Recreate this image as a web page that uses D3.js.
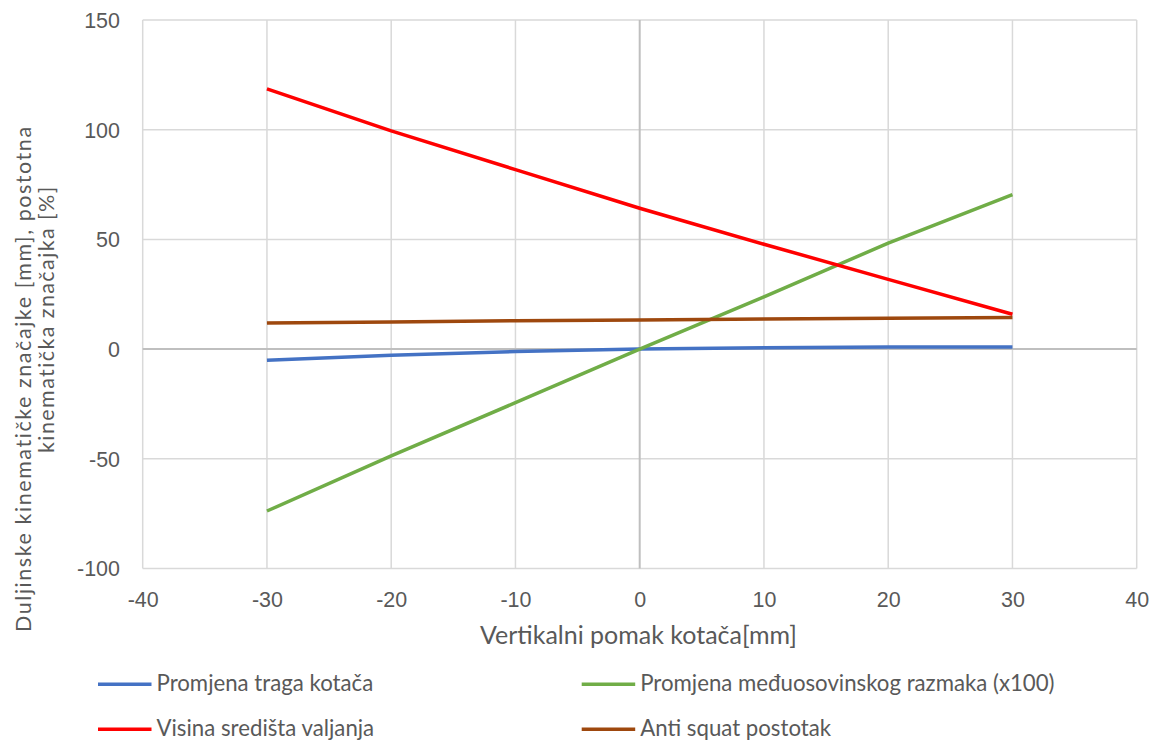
<!DOCTYPE html>
<html>
<head>
<meta charset="utf-8">
<script src="https://cdn.jsdelivr.net/npm/d3@7"></script>
<style>
  html, body { margin: 0; padding: 0; background: #fff; }
  svg { display: block; font-family: Lato, "Open Sans", sans-serif; }
</style>
</head>
<body>
<svg id="chart" width="1154" height="743"></svg>
<script>
const xValues = [-30, -20, -10, 0, 10, 20, 30];
const tragKotaca = [-5.1, -2.8, -1.1, 0, 0.6, 1.0, 1.0];
const meduosovinski = [-73.8, -48.7, -24.4, 0, 23.8, 48.3, 70.4];
const visinaSredista = [118.6, 99.5, 81.8, 64.2, 47.8, 31.8, 15.9];
const antiSquat = [11.9, 12.4, 12.9, 13.3, 13.7, 14.1, 14.4];
const xTicks = [-40, -30, -20, -10, 0, 10, 20, 30, 40];
const yTicks = [-100, -50, 0, 50, 100, 150];

const series = [
  { name: "Promjena traga kotača", values: tragKotaca, color: "#4472C4" },
  { name: "Promjena međuosovinskog razmaka (x100)", values: meduosovinski, color: "#70AD47" },
  { name: "Visina središta valjanja", values: visinaSredista, color: "#FF0000" },
  { name: "Anti squat postotak", values: antiSquat, color: "#9E480E" }
];

const svg = d3.select("#chart");
const pLeft = 142.7, pRight = 1136.7, pTop = 20, pBottom = 568.5;
const x = d3.scaleLinear().domain([-40, 40]).range([pLeft, pRight]);
const y = d3.scaleLinear().domain([-100, 150]).range([pBottom, pTop]);
const textColor = "#595959";
const fmt = d => (d < 0 ? "-" + Math.abs(d) : String(d));

function fit(sel, target) {
  sel.each(function () {
    const w = this.getComputedTextLength();
    const fs = parseFloat(this.style.fontSize);
    if (w > 0) this.style.fontSize = (fs * target / w).toFixed(2) + "px";
  });
}
function spread(sel, target) {
  sel.each(function () {
    const w = this.getComputedTextLength();
    const n = this.textContent.length;
    if (w > 0) this.style.letterSpacing = ((target - w) / n).toFixed(3) + "px";
  });
}

// grid
svg.append("g").selectAll("line").data(yTicks).join("line")
  .attr("x1", pLeft).attr("x2", pRight)
  .attr("y1", d => y(d)).attr("y2", d => y(d))
  .attr("stroke", "#d9d9d9").attr("stroke-width", 1.5);
svg.append("g").selectAll("line").data(xTicks).join("line")
  .attr("y1", pTop).attr("y2", pBottom)
  .attr("x1", d => x(d)).attr("x2", d => x(d))
  .attr("stroke", d => d === 0 ? "#bfbfbf" : "#d9d9d9").attr("stroke-width", d => d === 0 ? 2 : 1.5);
svg.append("line").attr("x1", pLeft).attr("x2", pRight).attr("y1", y(0)).attr("y2", y(0))
  .attr("stroke", "#bfbfbf").attr("stroke-width", 2);

const yAxis = svg.append("g").attr("transform", `translate(${pLeft},0)`)
  .call(d3.axisLeft(y).tickValues(yTicks).tickFormat(fmt).tickSize(0).tickPadding(22.7));
yAxis.select(".domain").remove();
yAxis.selectAll("text").attr("fill", textColor).style("font-size", "21px").attr("dy", 7.3);
fit(yAxis.selectAll("text").filter(d => d === -100), 43);
const yfs = yAxis.selectAll("text").filter(d => d === -100).style("font-size");
yAxis.selectAll("text").style("font-size", yfs);

const xAxis = svg.append("g").attr("transform", `translate(0,${pBottom})`)
  .call(d3.axisBottom(x).tickValues(xTicks).tickFormat(fmt).tickSize(0).tickPadding(0));
xAxis.select(".domain").remove();
xAxis.selectAll("text").attr("fill", textColor).style("font-size", yfs).attr("y", 38).attr("dy", 0);

const line = d3.line().x((d, i) => x(xValues[i])).y(d => y(d));
svg.append("g").selectAll("path").data(series).join("path")
  .attr("d", d => line(d.values))
  .attr("fill", "none").attr("stroke", d => d.color).attr("stroke-width", 3.5)
  .attr("stroke-linejoin", "round");

const xt = svg.append("text").attr("x", 638.5).attr("y", 644)
  .attr("text-anchor", "middle").attr("fill", textColor).style("font-size", "22px")
  .text("Vertikalni pomak kotača[mm]");
fit(xt, 317);

const yt1 = svg.append("text").attr("transform", "translate(31,632) rotate(-90)")
  .attr("text-anchor", "start").attr("fill", textColor).style("font-size", "21.5px")
  .text("Duljinske kinematičke značajke [mm], postotna");
spread(yt1, 507);
const yt2 = svg.append("text").attr("transform", "translate(53.5,453) rotate(-90)")
  .attr("text-anchor", "start").attr("fill", textColor).style("font-size", "21.5px")
  .text("kinematička značajka [%]");
spread(yt2, 268);

const legendPos = [[98, 684.3], [581.7, 684.3], [98, 729.3], [581.7, 729.3]];
const legendW = [218, 416.7, 218, 189];
const lg = svg.append("g").selectAll("g").data(series).join("g")
  .attr("transform", (d, i) => `translate(${legendPos[i][0]},${legendPos[i][1]})`);
lg.append("line").attr("x1", 0).attr("x2", 53.5).attr("y1", 0).attr("y2", 0)
  .attr("stroke", d => d.color).attr("stroke-width", 3.5);
const lt = lg.append("text").attr("x", 58.5).attr("y", 7)
  .attr("fill", textColor).style("font-size", "22px").text(d => d.name);
let fsSum = 0;
lt.each(function (d, i) {
  const w = this.getComputedTextLength();
  if (i !== 2) fsSum += 22 * legendW[i] / w;
});
lt.style("font-size", (fsSum / 3).toFixed(2) + "px");
</script>
</body>
</html>
